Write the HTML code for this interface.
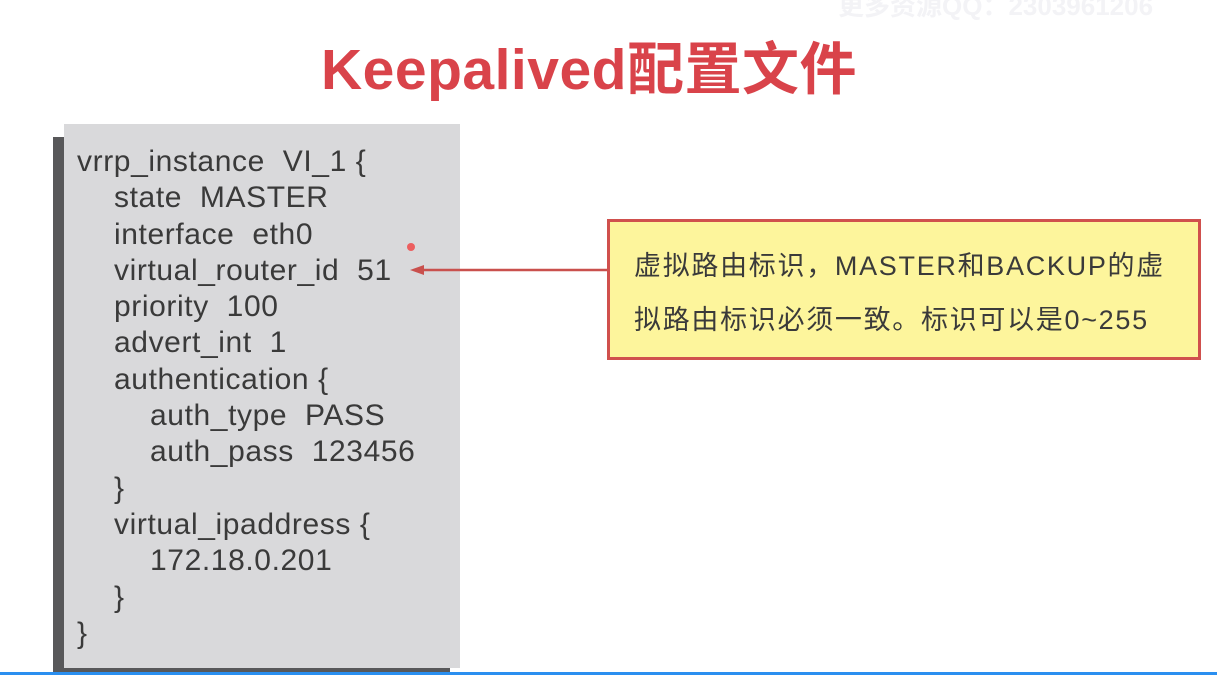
<!DOCTYPE html>
<html><head><meta charset="utf-8"><style>
body{margin:0;width:1217px;height:675px;background:#fff;position:relative;overflow:hidden;font-family:"Liberation Sans","Noto Sans CJK SC",sans-serif}
.t{position:absolute;left:0;width:1178px;top:24px;text-align:center;font-size:57px;font-weight:bold;color:#d9434a;letter-spacing:0.5px}
.wm{position:absolute;left:838px;top:-14px;font-size:26px;color:#f3f3f6;font-weight:bold}
.sh{position:absolute;left:53px;top:137px;width:397px;height:538px;background:#58585a}
.box{position:absolute;left:64px;top:124px;width:396px;height:544px;background:#d9d9db}
.code{position:absolute;left:77px;top:144px;font-size:30px;line-height:36.3px;color:#3a3a3a;white-space:pre;letter-spacing:0.6px}
.code div.i1{padding-left:37px}.code div.i2{padding-left:73px}
.y{position:absolute;left:607px;top:219px;width:588px;height:135px;background:#fdf59c;border:3px solid #d0504d}
.yt{position:absolute;left:24px;top:17px;font-size:27px;line-height:54px;color:#3a3a3a;white-space:nowrap;letter-spacing:1.7px}
.bl{position:absolute;left:0;top:672px;width:1217px;height:3px;background:#2a8ff0}
</style></head><body>
<div class="wm">更多资源QQ：2303961206</div>
<div class="t">Keepalived配置文件</div>
<div class="sh"></div><div class="box"></div>
<div class="code"><div>vrrp_instance  VI_1 {</div><div class="i1">state  MASTER</div><div class="i1">interface  eth0</div><div class="i1">virtual_router_id  51</div><div class="i1">priority  100</div><div class="i1">advert_int  1</div><div class="i1">authentication {</div><div class="i2">auth_type  PASS</div><div class="i2">auth_pass  123456</div><div class="i1">}</div><div class="i1">virtual_ipaddress {</div><div class="i2">172.18.0.201</div><div class="i1">}</div><div>}</div></div>
<svg style="position:absolute;left:0;top:0" width="1217" height="675">
<line x1="607" y1="270" x2="420" y2="270" stroke="#c9504d" stroke-width="2.5"/>
<polygon points="410,270 424,265 424,275" fill="#c9504d"/>
<circle cx="411" cy="247" r="4" fill="#f04040" opacity="0.8"/>
</svg>
<div class="y"><div class="yt">虚拟路由标识，MASTER和BACKUP的虚<br>拟路由标识必须一致。标识可以是0~255</div></div>
<div class="bl"></div>
</body></html>
